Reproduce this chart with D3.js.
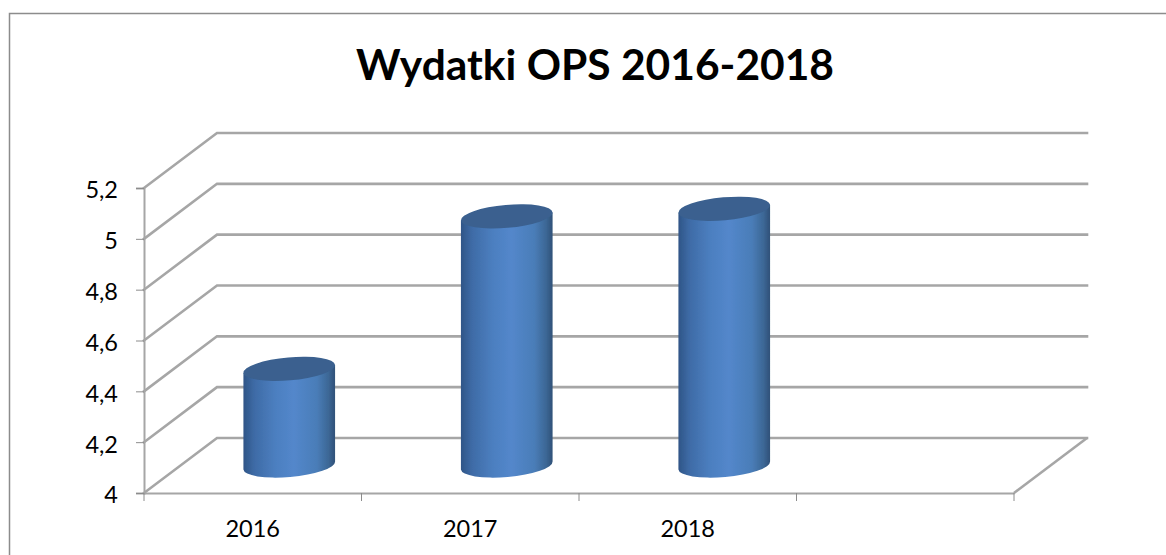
<!DOCTYPE html>
<html>
<head>
<meta charset="utf-8">
<script src="https://cdn.jsdelivr.net/npm/d3@7"></script>
<style>
  html, body { margin: 0; padding: 0; background: #fff; }
  text { font-family: Lato, "Open Sans", sans-serif; fill: #000; }
</style>
</head>
<body>
<script>
// values
var years = ["2016", "2017", "2018", ""];
var values = [4.38, 4.98, 5.01, null];
var yTicks = [4, 4.2, 4.4, 4.6, 4.8, 5, 5.2];
var yLabels = ["4", "4,2", "4,4", "4,6", "4,8", "5", "5,2"];
var titleText = "Wydatki OPS 2016-2018";

var svgWidth = 1166, svgHeight = 555;

// front plane of the 3d box and how far the back wall is shifted
var margin = {top: 188, left: 144},
  width = 870,
  height = 305,
  depthX = 73,
  depthY = -55;

var svg = d3.select("body")
  .append("svg")
  .attr("width", svgWidth)
  .attr("height", svgHeight)
  .style("display", "block");

var defs = svg.append("defs");

// the reference is a slightly soft bitmap
defs.append("filter").attr("id", "soft")
  .append("feGaussianBlur").attr("stdDeviation", 0.7);

var grad = defs.append("linearGradient").attr("id", "cyl");
grad.append("stop").attr("offset", "0%").attr("stop-color", "#2f5587");
grad.append("stop").attr("offset", "12%").attr("stop-color", "#3e6ba6");
grad.append("stop").attr("offset", "35%").attr("stop-color", "#4c7fc0");
grad.append("stop").attr("offset", "55%").attr("stop-color", "#5387cb");
grad.append("stop").attr("offset", "80%").attr("stop-color", "#4a7db8");
grad.append("stop").attr("offset", "93%").attr("stop-color", "#3c6795");
grad.append("stop").attr("offset", "100%").attr("stop-color", "#2f5078");

// outer frame, cut off at the right and bottom like the cropped original
svg.append("path")
  .attr("d", "M9.5,555V13.5H1166")
  .attr("fill", "none")
  .attr("stroke", "#8c8c8c")
  .attr("stroke-width", 1.5);

svg.append("text")
  .attr("x", 595)
  .attr("y", 80)
  .attr("text-anchor", "middle")
  .style("font-size", "42.5px")
  .style("font-weight", "700")
  .text(titleText);

var chart = svg.append("g")
  .attr("transform", "translate(" + margin.left + "," + margin.top + ")");

var x = d3.scaleBand()
  .domain(years)
  .range([0, width]);

var y = d3.scaleLinear()
  .domain([4, 5.2])
  .range([height, 0]);

// gridlines, side wall lines and floor
var walls = chart.append("g").attr("filter", "url(#soft)");

walls.selectAll("path.grid")
  .data(yTicks)
  .enter()
  .append("path")
  .attr("class", "grid")
  .attr("fill", "none")
  .attr("stroke", "#a6a6a6")
  .attr("stroke-width", 2.6)
  .attr("stroke-linecap", "square")
  .attr("d", function(d) {
    return "M0," + y(d) + "L" + depthX + "," + (y(d) + depthY) + "H" + (width + depthX);
  });

walls.append("path")
  .attr("fill", "none")
  .attr("stroke", "#a6a6a6")
  .attr("stroke-width", 2.6)
  .attr("d", "M" + width + "," + height + "L" + (width + depthX) + "," + (height + depthY));

// Add a Y axis
var yAxis = chart.append("g")
  .call(d3.axisLeft(y)
    .tickValues(yTicks)
    .tickSize(8)
    .tickPadding(18)
    .tickFormat(function(d, i) { return yLabels[i]; }));

yAxis.selectAll("text")
  .attr("dy", "0.42em")
  .style("font-size", "23.5px");

// Add a X axis
var xAxis = chart.append("g")
  .attr("transform", "translate(0," + height + ")")
  .call(d3.axisBottom(x).tickSize(0).tickPadding(27));

xAxis.selectAll("text").style("font-size", "23.5px");

// ticks sit on the band edges, not on the band centres
xAxis.selectAll("line.edge")
  .data(years.concat("end"))
  .enter()
  .append("line")
  .attr("class", "edge")
  .attr("x1", function(d, i) { return i * x.step(); })
  .attr("x2", function(d, i) { return i * x.step(); })
  .attr("y2", 8)
  .attr("stroke", "#8c8c8c");

chart.selectAll(".domain").attr("stroke", "#a6a6a6").attr("stroke-width", 2);
chart.selectAll(".tick line").attr("stroke", "#8c8c8c");

// cylinders stand half way into the box
var rx = 46, ry = 11.5, tilt = -5;
var cx = function(d) { return x(d) + x.bandwidth() / 2 + depthX / 2; };
var floorY = height + depthY / 2;
var topY = function(v) { return y(v) + depthY / 2; };

var bars = chart.append("g")
  .attr("filter", "url(#soft)")
  .selectAll("g")
  .data(years.filter(function(d, i) { return values[i] !== null; }))
  .enter()
  .append("g");

var dx = rx * Math.cos(tilt * Math.PI / 180);
var dy = rx * Math.sin(tilt * Math.PI / 180);

bars.append("path")
  .attr("fill", "url(#cyl)")
  .attr("d", function(d) {
    var c = cx(d), t = topY(values[years.indexOf(d)]);
    return "M" + (c - dx) + "," + (t - dy)
      + "L" + (c - dx) + "," + (floorY - dy)
      + "A" + rx + "," + ry + "," + tilt + ",0,0," + (c + dx) + "," + (floorY + dy)
      + "L" + (c + dx) + "," + (t + dy) + "Z";
  });

bars.append("ellipse")
  .attr("fill", "#3a618f")
  .attr("rx", rx)
  .attr("ry", ry)
  .attr("transform", function(d) {
    return "translate(" + cx(d) + "," + topY(values[years.indexOf(d)]) + ")rotate(" + tilt + ")";
  });
</script>
</body>
</html>
